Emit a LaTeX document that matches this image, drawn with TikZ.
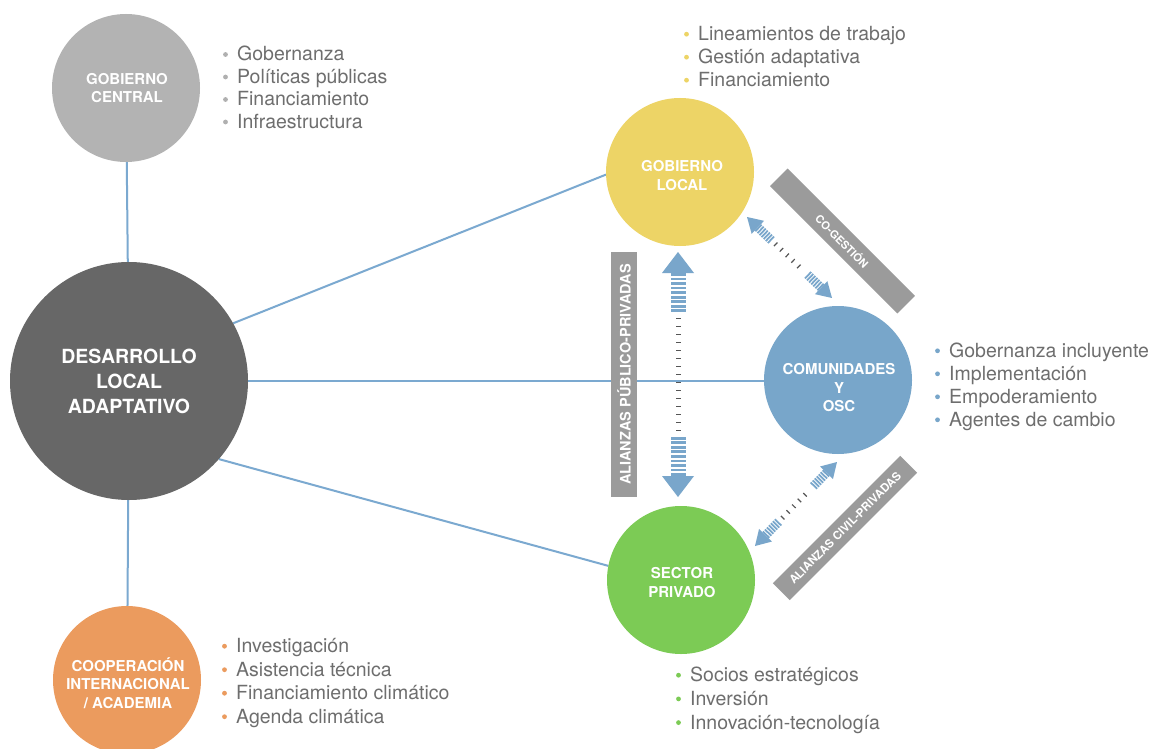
\documentclass[tikz,border=0pt]{standalone}
\usepackage{fontspec}
\setmainfont{TeX Gyre Heros}
\usetikzlibrary{calc}
\definecolor{gcgray}{HTML}{B3B3B3}
\definecolor{desgray}{HTML}{676767}
\definecolor{cyellow}{HTML}{EDD466}
\definecolor{cblue}{HTML}{78A6CA}
\definecolor{cgreen}{HTML}{7CCB55}
\definecolor{corange}{HTML}{EB9B5E}
\definecolor{bannergray}{HTML}{9B9B9B}
\definecolor{linkblue}{HTML}{7BA9D0}
\definecolor{arrowblue}{HTML}{79A6CB}
\definecolor{txtgray}{HTML}{6E6E6E}
\definecolor{bulgray}{HTML}{B0B0B0}
\definecolor{tickgray}{HTML}{555555}
\pgfdeclarelayer{bg}
\pgfdeclarelayer{paper}
\pgfsetlayers{paper,bg,main}
\tikzset{
  disc/.style={circle, inner sep=0pt, outer sep=0pt, minimum size=148pt, fill=#1},
  clabel/.style={text=white, inner sep=0pt, align=center, font=\bfseries\fontsize{15}{18.5}\selectfont},
  item/.style={text=txtgray, inner sep=0pt, font=\fontsize{19.5}{23}\selectfont},
  banner/.style={fill=bannergray, text=white, inner sep=0pt, font=\bfseries},
  link/.style={draw=linkblue, line width=2pt},
  dotsty/.style={draw=tickgray, line width=5pt, dash pattern=on 1.2pt off 6.8pt}
}
\newcommand\blist[6]{%
  \foreach \t [count=\i] in {#6} {
    \node[item, anchor=base west] (#1\i) at (#2, {-(#3)-(\i-1)*#4}) {\t};
    \fill[#5] ($(#1\i.base west)+(-11.5,6.5)$) circle (2.4pt);
  }}
\newcommand\dblarrow[7]{%
  \path let \p1=($(#2)-(#1)$) in
    \pgfextra{\pgfmathsetmacro\tmpl{veclen(\x1,\y1)}\pgfmathsetmacro\tmpa{atan2(\y1,\x1)}%
      \global\let\arrlen\tmpl\global\let\arrang\tmpa};
  \begin{scope}[shift={(#1)},rotate=\arrang]
    \fill[arrowblue] (0,0) -- (#3,#4) -- (#3,-#4) -- cycle;
    \fill[arrowblue] (\arrlen,0) -- ({\arrlen-#3},#4) -- ({\arrlen-#3},-#4) -- cycle;
    \pgfmathsetmacro\stp{#5/#7}
    \foreach \k in {1,...,#7} {
      \fill[arrowblue] ({#3+(\k-1)*\stp},-#6) rectangle ++({0.62*\stp},{2*#6});
      \fill[arrowblue] ({\arrlen-#3-(\k-1)*\stp},-#6) rectangle ++({-0.62*\stp},{2*#6});
    }
    \draw[dotsty] ({#3+#5+4},0) -- ({\arrlen-#3-#5-4},0);
  \end{scope}}
\begin{document}
\begin{tikzpicture}[x=1pt,y=1pt]
\clip (0,0) rectangle (1156,-749);
\begin{pgfonlayer}{paper}
\fill[white] (0,0) rectangle (1156,-749);
\end{pgfonlayer}

% circles
\node[disc=gcgray] (gc) at (126,-88) {};
\node[disc=desgray, minimum size=238pt] (des) at (129,-381) {};
\node[disc=corange] (co) at (127,-680) {};
\node[disc=cyellow] (gl) at (680,-172) {};
\node[disc=cblue] (com) at (838,-380) {};
\node[disc=cgreen] (sp) at (681,-580) {};

% circle labels
\node[clabel] (gcT) at (127,-88) {GOBIERNO\\CENTRAL};
\node[clabel, font=\bfseries\fontsize{19.5}{25}\selectfont] (desT) at (129,-381) {DESARROLLO\\LOCAL\\ADAPTATIVO};
\node[clabel] (coT) at (128,-683) {COOPERACIÓN\\INTERNACIONAL\\/ ACADEMIA};
\node[clabel] (glT) at (682,-175.5) {GOBIERNO\\LOCAL};
\node[clabel] (comT) at (839,-388) {COMUNIDADES\\Y\\OSC};
\node[clabel] (spT) at (682,-582.5) {SECTOR\\PRIVADO};

% connectors
\begin{pgfonlayer}{bg}
\draw[link] (gc) -- (des);
\draw[link] (des) -- (co);
\draw[link] (des.29) -- (gl.182);
\draw[link] (des.east) -- (des.east -| com.west);
\draw[link] (des.-41) -- (sp.169);
\end{pgfonlayer}

% banners
\node[banner, minimum width=245pt, minimum height=26pt, rotate=90,
      font=\bfseries\fontsize{14.5}{14.5}\selectfont] (app) at (624,-374.5) {ALIANZAS PÚBLICO-PRIVADAS};
\node[banner, minimum width=180pt, minimum height=25pt, rotate=-45,
      font=\bfseries\fontsize{11}{11}\selectfont] (cog) at (842.5,-241) {CO-GESTIÓN};
\node[banner, minimum width=180pt, minimum height=24pt, rotate=45,
      font=\bfseries\fontsize{11.5}{11.5}\selectfont] (acp) at (845,-528) {ALIANZAS CIVIL-PRIVADAS};

% double arrows
\coordinate (v1) at (678,-252);
\coordinate (v2) at (678,-497);
\coordinate (d1) at (747,-217);
\coordinate (d2) at (832,-298);
\coordinate (e1) at (755,-546);
\coordinate (e2) at (837,-462);
\dblarrow{v1}{v2}{21}{16}{41}{7.5}{9}
\dblarrow{d1}{d2}{15}{9}{20}{4.5}{7}
\dblarrow{e1}{e2}{15}{9}{20}{4.5}{7}

% lists
\blist{gcl}{237}{61}{22.5}{bulgray}{Gobernanza,Políticas públicas,Financiamiento,Infraestructura}
\blist{gll}{698}{40.7}{23}{cyellow}{Lineamientos de trabajo,Gestión adaptativa,Financiamiento}
\blist{coml}{949}{357.3}{23}{cblue}{Gobernanza incluyente,Implementación,Empoderamiento,Agentes de cambio}
\blist{spl}{690}{681.7}{23.7}{cgreen}{Socios estratégicos,Inversión,Innovación-tecnología}
\blist{col}{236}{652.7}{23.5}{corange}{Investigación,Asistencia técnica,Financiamiento climático,Agenda climática}
\end{tikzpicture}
\end{document}
